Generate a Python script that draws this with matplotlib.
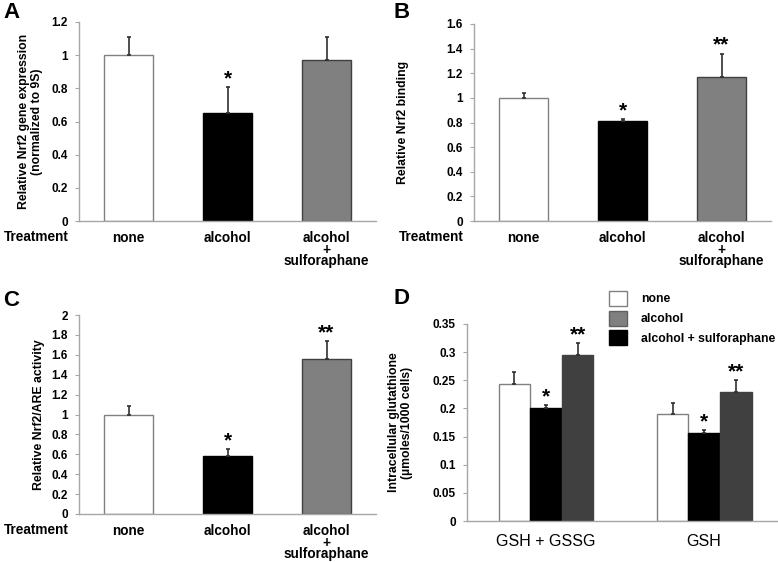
import numpy as np
import matplotlib
matplotlib.use("Agg")
import matplotlib.pyplot as plt
from matplotlib.patches import Patch

plt.rcParams['font.family'] = ['Liberation Sans', 'DejaVu Sans']

# --- data ---
treatments = ["none", "alcohol", "alcohol\n+\nsulforaphane"]

geneA = [1.0, 0.65, 0.97]
geneA_err = [0.11, 0.16, 0.14]
geneA_sig = ["", "*", ""]

bindB = [1.0, 0.81, 1.17]
bindB_err = [0.04, 0.02, 0.19]
bindB_sig = ["", "*", "**"]

areC = [1.0, 0.58, 1.56]
areC_err = [0.09, 0.07, 0.18]
areC_sig = ["", "*", "**"]

groupsD = ["GSH + GSSG", "GSH"]
noneD = [0.243, 0.190]
noneD_err = [0.021, 0.020]
alcD = [0.201, 0.156]
alcD_err = [0.005, 0.006]
sulfD = [0.295, 0.230]
sulfD_err = [0.021, 0.020]
sigD = [["", ""], ["*", "*"], ["**", "**"]]

bar_fill = ["white", "black", "#808080"]
bar_edge = ["#808080", "black", "#404040"]
spine_col = "#a6a6a6"

W, H = 778, 562
fig = plt.figure(figsize=(W / 100, H / 100), dpi=100)


def box(left, top, right, bottom):
    return [left / W, 1 - bottom / H, (right - left) / W, (bottom - top) / H]


def style_axes(ax):
    for s in ["top", "right"]:
        ax.spines[s].set_visible(False)
    for s in ["left", "bottom"]:
        ax.spines[s].set_color(spine_col)
        ax.spines[s].set_linewidth(1.0)
    ax.tick_params(axis="y", length=3, color=spine_col, pad=5)
    ax.tick_params(axis="x", length=0)


def yticks(ax, ymax, step):
    ticks = np.round(np.arange(0, ymax + step / 2, step), 2)
    ax.set_yticks(ticks)
    ax.set_yticklabels(["%g" % t for t in ticks], fontsize=8.5, fontweight="bold")


def star(ax, x, y, s):
    if s:
        ax.annotate(s, (x, y), xytext=(0, 2), textcoords="offset points",
                    ha="center", va="baseline", fontsize=15, fontweight="bold")


def treatment_panel(rect, vals, errs, sigs, ymax, step, ylabel, label_x, letter, letter_xy):
    ax = fig.add_axes(box(*rect))
    x = np.arange(len(vals))
    ax.bar(x, vals, width=0.5, color=bar_fill, edgecolor=bar_edge, linewidth=1.0, zorder=2)
    ax.errorbar(x, vals, yerr=[np.zeros(len(vals)), errs], fmt="none",
                ecolor="#303030", elinewidth=1.2, capsize=1.5, capthick=1.2, zorder=3)
    for xi, v, e, s in zip(x, vals, errs, sigs):
        star(ax, xi, v + e, s)
    ax.set_xlim(-0.5, 2.5)
    ax.set_ylim(0, ymax)
    yticks(ax, ymax, step)
    ax.set_xticks(x)
    ax.set_xticklabels(treatments, fontsize=9.8, fontweight="bold", va="top")
    for lab in ax.get_xticklabels():
        lab.set_linespacing(0.8)
    ax.tick_params(axis="x", pad=7)
    ax.set_ylabel(ylabel, fontsize=8.8, fontweight="bold", linespacing=1.1)
    ax.yaxis.set_label_coords(label_x, 0.5)
    style_axes(ax)
    ax.text(-0.145, -0.045, "Treatment", transform=ax.transAxes, ha="center",
            va="top", fontsize=9.8, fontweight="bold")
    fig.text(letter_xy[0] / W, 1 - letter_xy[1] / H, letter, fontsize=16,
             fontweight="bold", ha="left", va="top")
    return ax


treatment_panel((79, 22, 376, 221), geneA, geneA_err, geneA_sig, 1.2, 0.2,
                "Relative Nrf2 gene expression\n(normalized to 9S)", -0.12, "A", (3, 2))
treatment_panel((474, 24, 771, 221), bindB, bindB_err, bindB_sig, 1.6, 0.2,
                "Relative Nrf2 binding", -0.22, "B", (393, 2))
treatment_panel((79, 315, 376, 514), areC, areC_err, areC_sig, 2.0, 0.2,
                "Relative Nrf2/ARE activity", -0.114, "C", (3, 290))

# --- panel D ---
axD = fig.add_axes(box(467, 324, 780, 521))
xg = np.arange(len(groupsD))
bw = 0.2
seriesD = [(noneD, noneD_err, "white", "#808080"),
           (alcD, alcD_err, "black", "black"),
           (sulfD, sulfD_err, "#404040", "#404040")]
for i, (v, e, fc, ec) in enumerate(seriesD):
    xs = xg + (i - 1) * bw
    axD.bar(xs, v, width=bw, color=fc, edgecolor=ec, linewidth=1.0, zorder=2)
    axD.errorbar(xs, v, yerr=[np.zeros(len(v)), e], fmt="none", ecolor="#303030",
                 elinewidth=1.2, capsize=1.5, capthick=1.2, zorder=3)
    for xi, vi, ei, s in zip(xs, v, e, sigD[i]):
        star(axD, xi, vi + ei, s)
axD.set_xlim(-0.5, 1.48)
axD.set_ylim(0, 0.35)
yticks(axD, 0.35, 0.05)
axD.set_xticks(xg)
axD.set_xticklabels(groupsD, fontsize=11.5)
axD.tick_params(axis="x", pad=9)
axD.set_ylabel("Intracellular glutathione\n(\u00b5moles/1000 cells)", fontsize=8.8,
               fontweight="bold", linespacing=1.1)
axD.yaxis.set_label_coords(-0.174, 0.5)
style_axes(axD)
fig.text(393 / W, 1 - 288 / H, "D", fontsize=16, fontweight="bold", ha="left", va="top")

handles = [Patch(facecolor="white", edgecolor="#808080"),
           Patch(facecolor="#808080", edgecolor="#606060"),
           Patch(facecolor="black", edgecolor="black")]
fig.legend(handles, ["none", "alcohol", "alcohol + sulforaphane"],
           loc="upper left", bbox_to_anchor=(604 / W, 1 - 286 / H), frameon=False,
           prop={"size": 8.8, "weight": "bold"}, handlelength=1.5, handleheight=1.5,
           labelspacing=0.4, handletextpad=1.1, borderaxespad=0)

fig.savefig("out.png", dpi=100)
